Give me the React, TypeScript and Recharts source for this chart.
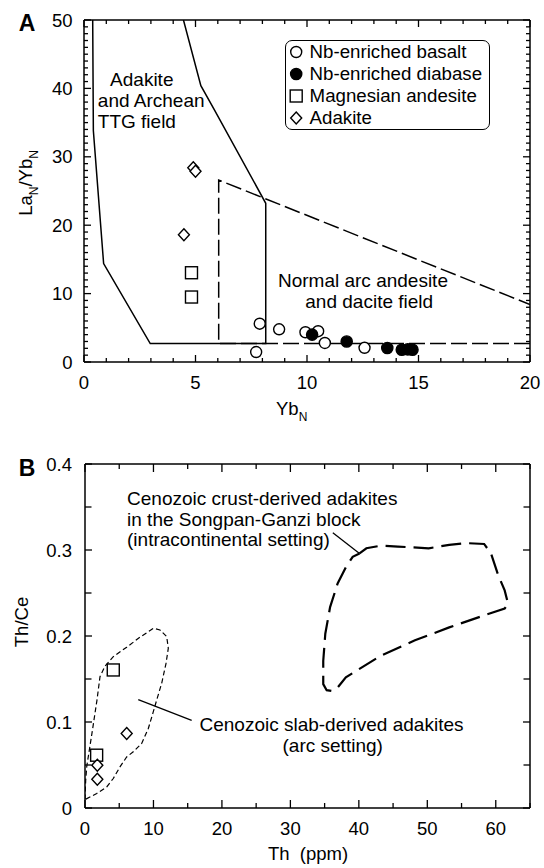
import React from 'react';
import { ScatterChart, Scatter, XAxis, YAxis, ReferenceDot, ReferenceLine, Legend } from 'recharts';

const FONT = '"Liberation Sans", Arial, Helvetica, sans-serif';

// ---------------- Panel A data (YbN vs LaN/YbN) ----------------
const nbBasaltA = [
  { x: 7.88, y: 5.6 }, { x: 7.72, y: 1.46 }, { x: 8.75, y: 4.78 }, { x: 9.93, y: 4.35 },
  { x: 10.5, y: 4.5 }, { x: 10.8, y: 2.78 }, { x: 12.58, y: 2.08 },
];
const nbDiabaseA = [
  { x: 10.23, y: 4.0 }, { x: 11.78, y: 3.0 }, { x: 13.6, y: 2.05 },
  { x: 14.25, y: 1.8 }, { x: 14.52, y: 1.85 }, { x: 14.73, y: 1.8 },
];
const mgAndesiteA = [{ x: 4.82, y: 13.05 }, { x: 4.82, y: 9.5 }];
const adakiteA = [{ x: 4.9, y: 28.4 }, { x: 5.0, y: 27.9 }, { x: 4.48, y: 18.6 }];

const adakiteFieldA = [
  { x: 0.39, y: 50 }, { x: 0.42, y: 33.8 }, { x: 0.88, y: 14.4 }, { x: 2.97, y: 2.7 },
  { x: 8.15, y: 2.7 }, { x: 8.15, y: 23.2 }, { x: 5.86, y: 36.8 }, { x: 5.24, y: 40.4 }, { x: 4.46, y: 50 },
];
const arcFieldA = [{ x: 20, y: 2.7 }, { x: 6.04, y: 2.7 }, { x: 6.04, y: 26.6 }, { x: 20, y: 8.4 }];

const xTicksA = Array.from({ length: 21 }, (_, i) => i);
const yTicksA = Array.from({ length: 51 }, (_, i) => i);
const xLabelsA = [0, 5, 10, 15, 20];
const yLabelsA = [0, 10, 20, 30, 40, 50];

const notesA = [
  { x: 1.17, y: 41.33, text: 'Adakite', anchor: 'start' },
  { x: 0.62, y: 38.26, text: 'and Archean', anchor: 'start' },
  { x: 0.62, y: 35.19, text: 'TTG field', anchor: 'start' },
  { x: 12.51, y: 11.9, text: 'Normal arc andesite', anchor: 'middle' },
  { x: 12.79, y: 8.85, text: 'and dacite field', anchor: 'middle' },
];

// ---------------- Panel B data (Th vs Th/Ce) ----------------
const mgAndesiteB = [{ x: 4.13, y: 0.1605 }, { x: 1.7, y: 0.0614 }];
const adakiteB = [{ x: 6.09, y: 0.0867 }, { x: 1.8, y: 0.0498 }, { x: 1.8, y: 0.0335 }];

const slabFieldB = [
  { x: 0.0, y: 0.0098 }, { x: 0.1, y: 0.032 }, { x: 0.25, y: 0.048 }, { x: 1.02, y: 0.087 },
  { x: 1.75, y: 0.1255 }, { x: 2.19, y: 0.1527 }, { x: 2.92, y: 0.165 }, { x: 4.13, y: 0.176 },
  { x: 6.09, y: 0.187 }, { x: 8.03, y: 0.1986 }, { x: 9.98, y: 0.209 }, { x: 10.95, y: 0.207 },
  { x: 11.93, y: 0.1993 }, { x: 12.17, y: 0.1858 }, { x: 11.83, y: 0.168 }, { x: 11.2, y: 0.145 },
  { x: 10.47, y: 0.1255 }, { x: 9.98, y: 0.112 }, { x: 9.25, y: 0.0925 }, { x: 8.28, y: 0.075 },
  { x: 7.05, y: 0.0653 }, { x: 6.09, y: 0.0594 }, { x: 5.11, y: 0.0478 }, { x: 4.13, y: 0.0343 },
  { x: 3.17, y: 0.0245 }, { x: 1.71, y: 0.0168 }, { x: 0.0, y: 0.0098 },
];
const crustFieldB = [
  { x: 40.1, y: 0.296 }, { x: 41.1, y: 0.302 }, { x: 43.2, y: 0.305 }, { x: 45.7, y: 0.304 },
  { x: 50.2, y: 0.302 }, { x: 53.2, y: 0.306 }, { x: 55.7, y: 0.308 }, { x: 58.3, y: 0.307 },
  { x: 59.3, y: 0.296 }, { x: 60.3, y: 0.272 }, { x: 61.3, y: 0.253 }, { x: 61.8, y: 0.2375 },
  { x: 61.3, y: 0.232 }, { x: 58.3, y: 0.224 }, { x: 53.2, y: 0.21 }, { x: 48.2, y: 0.195 },
  { x: 43.2, y: 0.177 }, { x: 38.1, y: 0.152 }, { x: 36.9, y: 0.14 }, { x: 36.1, y: 0.136 },
  { x: 35.3, y: 0.137 }, { x: 34.8, y: 0.144 }, { x: 34.8, y: 0.171 }, { x: 35.1, y: 0.2026 },
  { x: 35.8, y: 0.2336 }, { x: 36.9, y: 0.261 }, { x: 38.1, y: 0.28 }, { x: 39.1, y: 0.292 },
  { x: 40.1, y: 0.296 },
];
const crustLeader = [{ x: 36.2, y: 0.32 }, { x: 40.0, y: 0.2965 }];
const slabLeader = [{ x: 7.78, y: 0.126 }, { x: 15.58, y: 0.102 }];

const xTicksB = [0, 5, 10, 15, 20, 25, 30, 35, 40, 45, 50, 55, 60, 65];
const xLabelsB = [0, 10, 20, 30, 40, 50, 60];
const yTicksB = [0, 0.05, 0.1, 0.15, 0.2, 0.25, 0.3, 0.35, 0.4];
const yLabelsB = [0, 0.1, 0.2, 0.3, 0.4];

const notesB = [
  { x: 6.14, y: 0.3594, text: 'Cenozoic crust-derived adakites', anchor: 'start' },
  { x: 6.14, y: 0.336, text: 'in the Songpan-Ganzi block', anchor: 'start' },
  { x: 6.14, y: 0.312, text: '(intracontinental setting)', anchor: 'start' },
  { x: 16.72, y: 0.0972, text: 'Cenozoic slab-derived adakites', anchor: 'start' },
  { x: 36.18, y: 0.0731, text: '(arc setting)', anchor: 'middle' },
];

// ---------------- shapes ----------------
const SW = 1.4;
const OpenCircle = (p: any) => <circle cx={p.cx} cy={p.cy} r={5.5} fill="#fff" stroke="#000" strokeWidth={SW} />;
const FilledCircle = (p: any) => <circle cx={p.cx} cy={p.cy} r={5.6} fill="#000" stroke="#000" strokeWidth={SW} />;
const Square = (p: any) => <rect x={p.cx - 6} y={p.cy - 6} width={12} height={12} fill="#fff" stroke="#000" strokeWidth={SW} />;
const Diamond = (p: any) => (
  <polygon points={`${p.cx},${p.cy - 6} ${p.cx + 5.5},${p.cy} ${p.cx},${p.cy + 6} ${p.cx - 5.5},${p.cy}`} fill="#fff" stroke="#000" strokeWidth={SW} />
);
const NoShape = () => <g />;

const near = (list: number[], v: number) => list.some((m) => Math.abs(m - v) < 1e-9);
const fmt = (v: number) => (Math.abs(v) < 1e-9 ? '0' : String(Math.round(v * 100) / 100));

function makeTick(side: string, majors: number[], labels: number[] | null, minorLen: number, majorLen: number, gap: number) {
  return (props: any) => {
    const { x, y, payload } = props;
    const v = payload.value;
    const len = near(majors, v) ? majorLen : minorLen;
    const showLabel = labels && near(labels, v);
    const textStyle = { fontFamily: FONT, fontSize: 18.5, fill: '#000' } as any;
    if (side === 'bottom') {
      return (
        <g>
          <line x1={x} y1={y} x2={x} y2={y - len} stroke="#000" strokeWidth={1.3} />
          {showLabel && (
            <text x={x} y={y + gap} textAnchor="middle" dominantBaseline="central" style={textStyle}>{fmt(v)}</text>
          )}
        </g>
      );
    }
    if (side === 'top') {
      return <line x1={x} y1={y} x2={x} y2={y + len} stroke="#000" strokeWidth={1.3} />;
    }
    if (side === 'left') {
      return (
        <g>
          <line x1={x} y1={y} x2={x + len} y2={y} stroke="#000" strokeWidth={1.3} />
          {showLabel && (
            <text x={x - gap} y={y} textAnchor="end" dominantBaseline="central" style={textStyle}>{fmt(v)}</text>
          )}
        </g>
      );
    }
    return <line x1={x} y1={y} x2={x - len} y2={y} stroke="#000" strokeWidth={1.3} />;
  };
}

const axisLine = { stroke: '#000', strokeWidth: 1.5 };

const noteShape = (text: string, anchor: string) => (p: any) => (
  <text x={p.cx} y={p.cy} textAnchor={anchor} dominantBaseline="central" style={{ fontFamily: FONT, fontSize: 19, fill: '#000' }}>
    {text}
  </text>
);

const legendItems = [
  { name: 'Nb-enriched basalt', Shape: OpenCircle },
  { name: 'Nb-enriched diabase', Shape: FilledCircle },
  { name: 'Magnesian andesite', Shape: Square },
  { name: 'Adakite', Shape: Diamond },
];

function LegendBox() {
  return (
    <div style={{ position: 'relative', width: 205, height: 90, border: '1.4px solid #000', borderRadius: 7, boxSizing: 'border-box', background: '#fff', fontFamily: FONT, fontSize: 18.7, color: '#000' }}>
      {legendItems.map((it, i) => (
        <div key={i} style={{ position: 'absolute', left: 0, top: 12.5 + i * 21.8 - 11 - 1.4, height: 22, display: 'flex', alignItems: 'center', whiteSpace: 'nowrap' }}>
          <svg width={23.6} height={22} style={{ display: 'block' }}>
            <it.Shape cx={10.2} cy={11} />
          </svg>
          <span style={{ lineHeight: '22px' }}>{it.name}</span>
        </div>
      ))}
    </div>
  );
}

const T = { fontFamily: FONT, fontSize: 18.5, fill: '#000' } as any;

export default function App() {
  return (
    <div style={{ position: 'absolute', left: 0, top: 0, width: 544, height: 868, background: '#fff', fontFamily: FONT }}>
      <div style={{ position: 'absolute', left: 0, top: 0 }}>
        <ScatterChart width={544} height={420} margin={{ top: 19, right: 13, bottom: 57, left: 83 }}>
          <XAxis type="number" dataKey="x" domain={[0, 20]} ticks={xTicksA} interval={0} height={1} tickSize={0} tickMargin={0}
            tickLine={false} axisLine={axisLine} tick={makeTick('bottom', xLabelsA, xLabelsA, 4, 7, 20)} allowDataOverflow />
          <XAxis xAxisId="top" orientation="top" type="number" dataKey="x" domain={[0, 20]} ticks={xTicksA} interval={0} height={1}
            tickSize={0} tickMargin={0} tickLine={false} axisLine={axisLine} tick={makeTick('top', xLabelsA, null, 4, 7, 0)} allowDataOverflow />
          <YAxis type="number" dataKey="y" domain={[0, 50]} ticks={yTicksA} interval={0} width={1} tickSize={0} tickMargin={0}
            tickLine={false} axisLine={axisLine} tick={makeTick('left', yLabelsA, yLabelsA, 4, 7, 11.5)} allowDataOverflow />
          <YAxis yAxisId="right" orientation="right" type="number" dataKey="y" domain={[0, 50]} ticks={yTicksA} interval={0} width={1}
            tickSize={0} tickMargin={0} tickLine={false} axisLine={axisLine} tick={makeTick('right', yLabelsA, null, 4, 7, 0)} allowDataOverflow />
          <Scatter data={adakiteFieldA} xAxisId="top" yAxisId="right" fill="#000" shape={NoShape} legendType="none"
            line={{ stroke: '#000', strokeWidth: 1.5 }} isAnimationActive={false} />
          <Scatter data={arcFieldA} xAxisId="top" yAxisId="right" fill="#000" shape={NoShape} legendType="none"
            line={{ stroke: '#000', strokeWidth: 1.5, strokeDasharray: '16 5' }} isAnimationActive={false} />
          {notesA.map((n, i) => (
            <ReferenceDot key={i} x={n.x} y={n.y} r={0} ifOverflow="visible" shape={noteShape(n.text, n.anchor)} />
          ))}
          <Scatter name="Nb-enriched basalt" data={nbBasaltA} shape={OpenCircle} isAnimationActive={false} />
          <Scatter name="Nb-enriched diabase" data={nbDiabaseA} shape={FilledCircle} isAnimationActive={false} />
          <Scatter name="Magnesian andesite" data={mgAndesiteA} shape={Square} isAnimationActive={false} />
          <Scatter name="Adakite" data={adakiteA} shape={Diamond} isAnimationActive={false} />
          <Legend layout="horizontal" verticalAlign="middle" align="center" content={() => <LegendBox />}
            wrapperStyle={{ left: 285, top: 40, width: 205, height: 90 }} />
        </ScatterChart>
      </div>
      <div style={{ position: 'absolute', left: 0, top: 420 }}>
        <ScatterChart width={544} height={448} margin={{ top: 43, right: 13, bottom: 59, left: 84 }}>
          <XAxis type="number" dataKey="x" domain={[0, 65]} ticks={xTicksB} interval={0} height={1} tickSize={0} tickMargin={0}
            tickLine={false} axisLine={axisLine} tick={makeTick('bottom', xLabelsB, xLabelsB, 5, 8, 20)} allowDataOverflow />
          <XAxis xAxisId="top" orientation="top" type="number" dataKey="x" domain={[0, 65]} ticks={xTicksB} interval={0} height={1}
            tickSize={0} tickMargin={0} tickLine={false} axisLine={axisLine} tick={makeTick('top', xLabelsB, null, 5, 8, 0)} allowDataOverflow />
          <YAxis type="number" dataKey="y" domain={[0, 0.4]} ticks={yTicksB} interval={0} width={1} tickSize={0} tickMargin={0}
            tickLine={false} axisLine={axisLine} tick={makeTick('left', yLabelsB, yLabelsB, 6.5, 7, 13)} allowDataOverflow />
          <YAxis yAxisId="right" orientation="right" type="number" dataKey="y" domain={[0, 0.4]} ticks={yTicksB} interval={0} width={1}
            tickSize={0} tickMargin={0} tickLine={false} axisLine={axisLine} tick={makeTick('right', yLabelsB, null, 6.5, 7, 0)} allowDataOverflow />
          <Scatter data={slabFieldB} xAxisId="top" yAxisId="right" fill="#000" shape={NoShape} legendType="none"
            line={{ stroke: '#000', strokeWidth: 1.2, strokeDasharray: '5 3' }} isAnimationActive={false} />
          <Scatter data={crustFieldB} xAxisId="top" yAxisId="right" fill="#000" shape={NoShape} legendType="none"
            line={{ stroke: '#000', strokeWidth: 2.2, strokeDasharray: '20 8' }} isAnimationActive={false} />
          <ReferenceLine segment={crustLeader} stroke="#000" strokeWidth={1.3} ifOverflow="visible" />
          <ReferenceLine segment={slabLeader} stroke="#000" strokeWidth={1.3} ifOverflow="visible" />
          {notesB.map((n, i) => (
            <ReferenceDot key={i} x={n.x} y={n.y} r={0} ifOverflow="visible" shape={noteShape(n.text, n.anchor)} />
          ))}
          <Scatter name="Magnesian andesite" data={mgAndesiteB} shape={Square} isAnimationActive={false} />
          <Scatter name="Adakite" data={adakiteB} shape={Diamond} isAnimationActive={false} />
        </ScatterChart>
      </div>
      <svg width={544} height={868} style={{ position: 'absolute', left: 0, top: 0, pointerEvents: 'none' }}>
        <text x={27} y={31} textAnchor="middle" style={{ fontFamily: FONT, fontSize: 23, fontWeight: 'bold', fill: '#000' }}>A</text>
        <text x={27} y={476} textAnchor="middle" style={{ fontFamily: FONT, fontSize: 23, fontWeight: 'bold', fill: '#000' }}>B</text>
        <text x={276} y={414.5} style={T}>
          Yb<tspan dy={6} style={{ fontSize: 12 }}>N</tspan>
        </text>
        <text transform="translate(32,183) rotate(-90)" textAnchor="middle" style={T}>
          La<tspan dy={6} style={{ fontSize: 12 }}>N</tspan><tspan dy={-6}>/Yb</tspan><tspan dy={6} style={{ fontSize: 12 }}>N</tspan>
        </text>
        <text transform="translate(27.5,622) rotate(-90)" textAnchor="middle" style={T}>Th/Ce</text>
        <text x={308} y={860} textAnchor="middle" style={{ ...T, whiteSpace: 'pre' }}>{'Th  (ppm)'}</text>
      </svg>
    </div>
  );
}
